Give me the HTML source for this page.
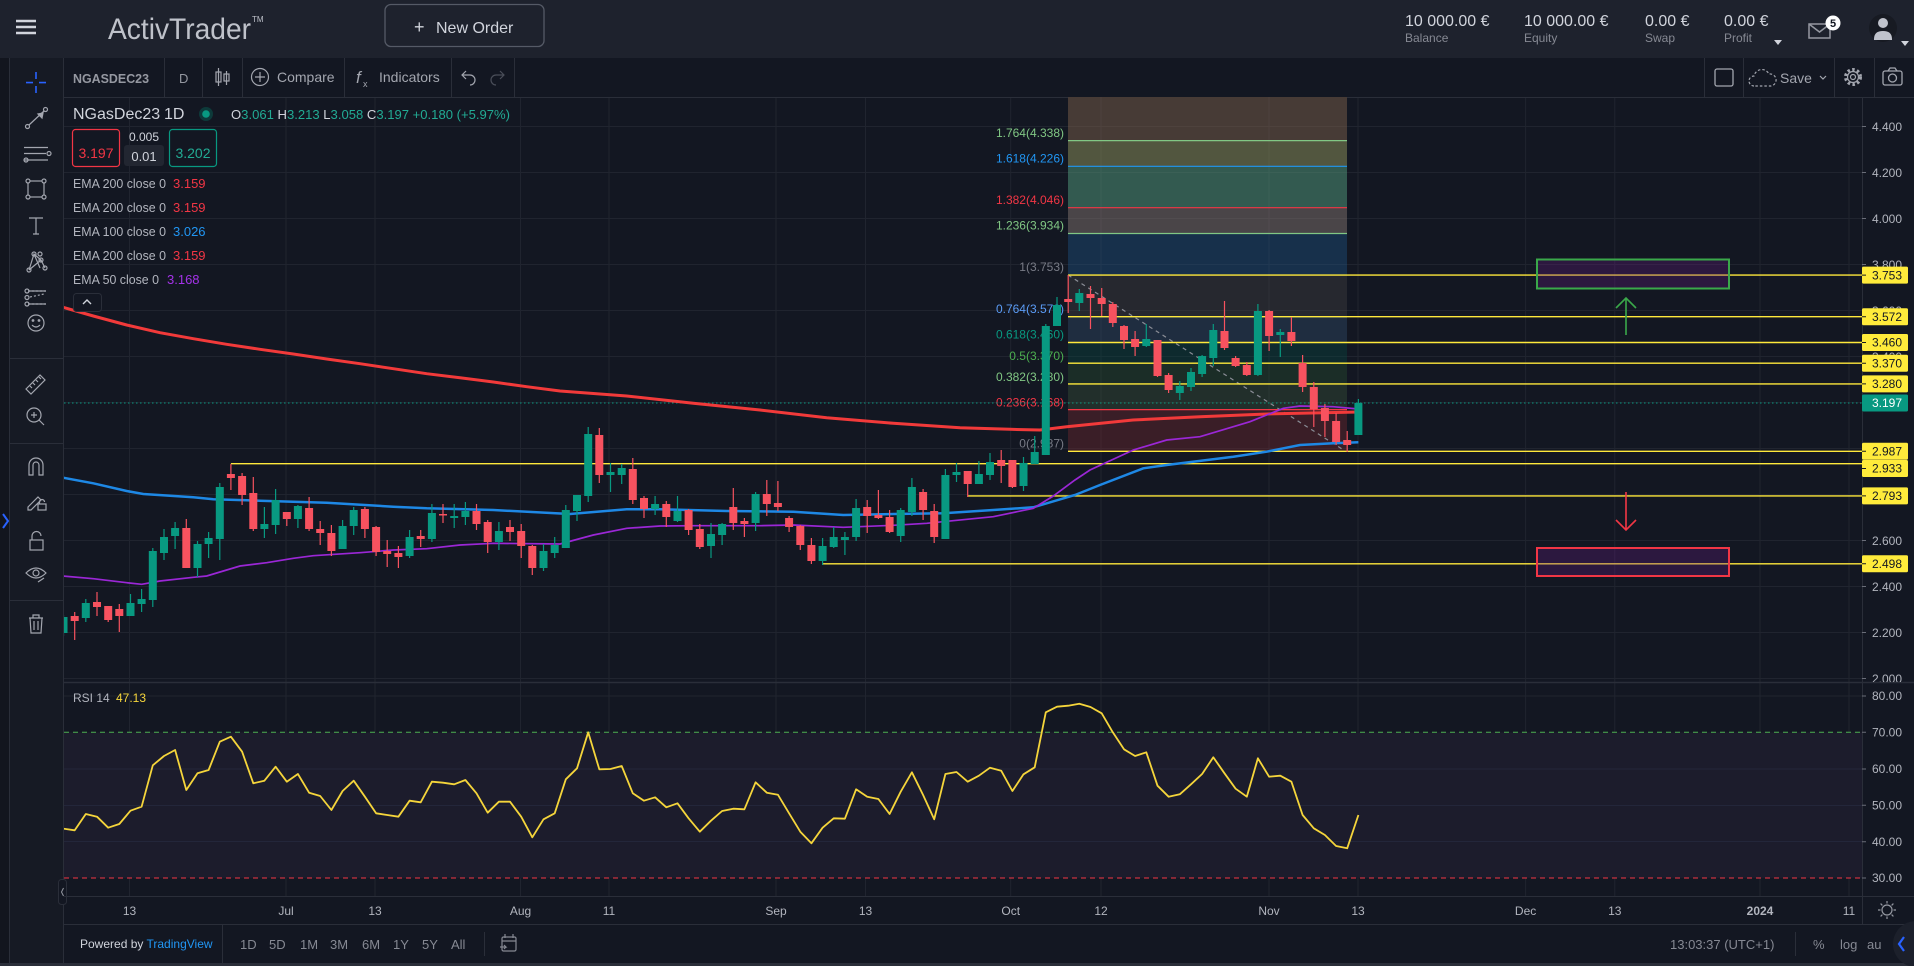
<!DOCTYPE html>
<html><head><meta charset="utf-8"><style>
html,body{margin:0;padding:0;background:#131722;}
svg{display:block;}
text{font-family:"Liberation Sans",sans-serif;}
</style></head><body>
<svg width="1914" height="966" viewBox="0 0 1914 966" xmlns="http://www.w3.org/2000/svg">
<defs>
<clipPath id="plot"><rect x="64" y="97" width="1798" height="585"/></clipPath>
<clipPath id="rsi"><rect x="64" y="683" width="1798" height="213"/></clipPath>
<clipPath id="axisclip"><rect x="1862" y="97" width="52" height="585"/></clipPath>
</defs>
<rect width="1914" height="966" fill="#131722"/>
<!-- HEADER -->
<rect x="0" y="0" width="1914" height="58" fill="#1e222d"/>
<g stroke="#d1d4dc" stroke-width="2.6"><path d="M16 21H36M16 27H36M16 33H36"/></g>
<text x="108" y="39" font-size="30" fill="#bfc2ca" textLength="143" lengthAdjust="spacingAndGlyphs">ActivTrader</text>
<text x="252" y="22" font-size="8" fill="#bfc2ca">TM</text>
<rect x="385" y="4.5" width="159" height="42" rx="6" fill="none" stroke="#555a66" stroke-width="1.3"/>
<text x="414" y="33" font-size="18" fill="#d1d4dc">+</text>
<text x="436" y="33" font-size="16" fill="#d1d4dc">New Order</text>
<g font-size="16" fill="#d1d4dc">
<text x="1405" y="26">10 000.00 €</text>
<text x="1524" y="26">10 000.00 €</text>
<text x="1645" y="26">0.00 €</text>
<text x="1724" y="26">0.00 €</text>
</g>
<g font-size="12" fill="#868993">
<text x="1405" y="42">Balance</text>
<text x="1524" y="42">Equity</text>
<text x="1645" y="42">Swap</text>
<text x="1724" y="42">Profit</text>
</g>
<path d="M1774 40h8l-4 5z" fill="#d1d4dc"/>
<rect x="1809" y="24" width="21" height="14" fill="none" stroke="#9598a1" stroke-width="1.5"/>
<path d="M1809 24l10.5 8 10.5-8" fill="none" stroke="#9598a1" stroke-width="1.5"/>
<circle cx="1833" cy="23" r="7.5" fill="#fff"/>
<text x="1833" y="27" font-size="11" font-weight="bold" fill="#131722" text-anchor="middle">5</text>
<circle cx="1883" cy="28" r="14" fill="#171a22"/>
<circle cx="1883" cy="23" r="5" fill="#c0c3cc"/>
<path d="M1874 39q0-8 9-8t9 8v1h-18z" fill="#c0c3cc"/>
<path d="M1901 41h8l-4 5z" fill="#d1d4dc"/>
<!-- LEFT TOOLBAR -->
<rect x="0" y="58" width="10" height="908" fill="#12151e"/>
<rect x="10" y="58" width="53" height="908" fill="#161a24"/>
<path d="M9.5 58V966M63.5 58V966" stroke="#2a2e39"/>
<path d="M10 358.5H63M10 443.5H63M10 600.5H63" stroke="#2a2e39"/>
<path d="M3 514l5 7-5 7" fill="none" stroke="#2962ff" stroke-width="2"/>
<g stroke="#2962ff" stroke-width="1.6"><path d="M26 82.6h7M39 82.6h7M36 72v7M36 86v7"/></g>
<g fill="none" stroke="#a3a6af" stroke-width="1.2">
<path d="M29 125L44 111"/><circle cx="27.5" cy="126.5" r="2"/><circle cx="45.5" cy="109.5" r="2"/><path d="M38 114l5-1-1 5z" fill="#a3a6af"/>
<path d="M24 147.5H48M24 153.5H46M24 160H48"/><circle cx="49" cy="153.5" r="2"/><circle cx="26" cy="160" r="2"/>
<rect x="28" y="181" width="16" height="16"/><circle cx="28" cy="181" r="2" fill="#161a24"/><circle cx="44" cy="181" r="2" fill="#161a24"/><circle cx="28" cy="197" r="2" fill="#161a24"/><circle cx="44" cy="197" r="2" fill="#161a24"/>
<path d="M29 218h14M36 218v16M33 234h6"/>
<path d="M29 270l5-16 7 6 4 8M34 254l6 14M29 270l12-10"/><circle cx="29" cy="270" r="2"/><circle cx="34" cy="254" r="2"/><circle cx="41" cy="260" r="2"/><circle cx="45" cy="268" r="2"/><circle cx="40" cy="254" r="2"/>
<path d="M28 291H46M28 304H46M30 297l14-3" stroke-dasharray="2 2"/><path d="M28 291H46M28 304H46"/><circle cx="27" cy="291" r="2"/><circle cx="27" cy="304" r="2"/><circle cx="27" cy="297.5" r="2"/>
<circle cx="36" cy="323" r="8"/><path d="M32 325q4 4 8 0"/><circle cx="33" cy="320.5" r=".8" fill="#a3a6af"/><circle cx="39" cy="320.5" r=".8" fill="#a3a6af"/>
<path d="M26 389l14-14 5 5-14 14z M30 386l2 2M33 383l2 2M36 380l2 2M39 377l2 2"/>
<circle cx="34" cy="415" r="7"/><path d="M39 420l5 5M31 415h6M34 412v6"/>
<path d="M29 475v-10a7 7 0 0 1 14 0v10h-4v-10a3 3 0 0 0-6 0v10z"/>
<path d="M28 507l10-10 3 3-10 10h-3z"/><rect x="38" y="504" width="8" height="6"/><path d="M39.5 504v-2a2.5 2.5 0 0 1 5 0"/>
<rect x="30" y="540" width="13" height="10"/><path d="M32 540v-4a4.5 4.5 0 0 1 9 0"/>
<path d="M26 573q10-10 20 0q-10 10-20 0z"/><circle cx="36" cy="573" r="3"/><path d="M38 582l6-4"/>
<path d="M29 618h14M33 618v-3h6v3M30 618l1 15h10l1-15M34 621v9M38 621v9"/>
</g>
<!-- CHART TOOLBAR -->
<path d="M64 97.5H1914" stroke="#2a2e39"/>
<g stroke="#2a2e39"><path d="M164.5 58V97M202.5 58V97M242.5 58V97M344.5 58V97M451.5 58V97M514.5 58V97M1704.5 58V97M1743.5 58V97M1834.5 58V97M1874.5 58V97"/></g>
<text x="73" y="83" font-size="13" font-weight="bold" fill="#9598a1" textLength="76" lengthAdjust="spacingAndGlyphs">NGASDEC23</text>
<text x="179" y="83" font-size="13" fill="#9598a1">D</text>
<g fill="none" stroke="#a3a6af" stroke-width="1.2"><path d="M218.5 68v18M226.5 71v14"/><rect x="216" y="72" width="5" height="10"/><rect x="224" y="74" width="5" height="7"/>
<circle cx="260" cy="77" r="8.5"/><path d="M255 77h10M260 72v10"/>
<path d="M466 71l-4 4 4 4M462 75h8a5 5 0 0 1 0 10"/></g>
<path d="M500 71l4 4-4 4M504 75h-8a5 5 0 0 0 0 10" fill="none" stroke="#4a4e59" stroke-width="1.2"/>
<text x="277" y="82" font-size="14" fill="#a3a6af">Compare</text>
<text x="356" y="83" font-size="17" font-style="italic" font-family="Liberation Serif,serif" fill="#a3a6af">f</text>
<text x="363" y="87" font-size="9" fill="#a3a6af">x</text>
<text x="379" y="82" font-size="14" fill="#a3a6af">Indicators</text>
<rect x="1715" y="69" width="18" height="17" rx="2" fill="none" stroke="#a3a6af" stroke-width="1.3"/>
<path d="M1754 86a5 5 0 0 1 0-10a8 8 0 0 1 15-2a6 6 0 0 1 2 12z" fill="none" stroke="#a3a6af" stroke-width="1.2" stroke-dasharray="2.5 2"/>
<text x="1780" y="83" font-size="14" fill="#a3a6af">Save</text>
<path d="M1820 76l3 3 3-3" fill="none" stroke="#a3a6af" stroke-width="1.2"/>
<circle cx="1853" cy="77" r="7.5" fill="none" stroke="#a3a6af" stroke-width="3" stroke-dasharray="2.5 2.4"/>
<circle cx="1853" cy="77" r="5.5" fill="none" stroke="#a3a6af" stroke-width="1.2"/>
<circle cx="1853" cy="77" r="2.5" fill="none" stroke="#a3a6af" stroke-width="1.2"/>
<rect x="1883" y="71" width="19" height="14" rx="2" fill="none" stroke="#a3a6af" stroke-width="1.3"/>
<path d="M1888 71l2-3h5l2 3" fill="none" stroke="#a3a6af" stroke-width="1.3"/>
<circle cx="1892.5" cy="78" r="4" fill="none" stroke="#a3a6af" stroke-width="1.3"/>
<!-- GRID -->
<g stroke="#20242f" stroke-width="1">
<path d="M64 126.5H1862M64 172.5H1862M64 218.5H1862M64 264.5H1862M64 310.5H1862M64 356.5H1862M64 402.5H1862M64 448.5H1862M64 494.5H1862M64 540.5H1862M64 586.5H1862M64 632.5H1862M64 678.5H1862"/>
<path d="M64 696H1862M64 769H1862M64 805.5H1862M64 841.5H1862"/>
<path d="M129.5 98V896M286 98V896M375 98V896M520.5 98V896M609 98V896M776 98V896M865.5 98V896M1010.7 98V896M1101 98V896M1269 98V896M1358 98V896M1525.6 98V896M1614.8 98V896M1760 98V896M1849 98V896"/>
</g>
<!-- MAIN PLOT -->
<g clip-path="url(#plot)">
<rect x="1068" y="97" width="279" height="43.6" fill="#473b36"/>
<rect x="1068" y="140.6" width="279" height="25.7" fill="#52563f"/>
<rect x="1068" y="166.3" width="279" height="41.4" fill="#335a50"/>
<rect x="1068" y="207.7" width="279" height="25.8" fill="#4a4548"/>
<rect x="1068" y="233.5" width="279" height="41.6" fill="#17304b"/>
<rect x="1068" y="275.1" width="279" height="41.6" fill="#26282f"/>
<rect x="1068" y="316.7" width="279" height="25.8" fill="#1f2d40"/>
<rect x="1068" y="342.5" width="279" height="20.7" fill="#0e2a2e"/>
<rect x="1068" y="363.2" width="279" height="20.7" fill="#1b2d27"/>
<rect x="1068" y="383.9" width="279" height="25.7" fill="#222f2b"/>
<rect x="1068" y="409.6" width="279" height="41.7" fill="#3a1e27"/>
<g stroke="rgba(255,255,255,0.04)"><path d="M1101 97V451M1269 97V451M1068 126.5H1347M1068 172.5H1347M1068 218.5H1347M1068 264.5H1347M1068 310.5H1347M1068 356.5H1347M1068 402.5H1347M1068 448.5H1347"/></g>
<g stroke-width="1.2">
<path d="M1068 140.6H1347" stroke="#81c784"/>
<path d="M1068 166.3H1347" stroke="#2196f3"/>
<path d="M1068 207.7H1347" stroke="#f23645"/>
<path d="M1068 233.5H1347" stroke="#81c784"/>
<path d="M1068 316.7H1347" stroke="#64b5f6"/>
<path d="M1068 409.6H1347" stroke="#f23645"/>
</g>
<g font-size="12" text-anchor="end">
<text x="1064" y="137" fill="#81c784">1.764(4.338)</text>
<text x="1064" y="162.5" fill="#2196f3">1.618(4.226)</text>
<text x="1064" y="204" fill="#f23645">1.382(4.046)</text>
<text x="1064" y="229.5" fill="#81c784">1.236(3.934)</text>
<text x="1064" y="271" fill="#787b86">1(3.753)</text>
<text x="1064" y="313" fill="#5b9cf6">0.764(3.572)</text>
<text x="1064" y="338.5" fill="#089981">0.618(3.460)</text>
<text x="1064" y="360" fill="#4caf50">0.5(3.370)</text>
<text x="1064" y="381" fill="#81c784">0.382(3.280)</text>
<text x="1064" y="406.5" fill="#f23645">0.236(3.168)</text>
<text x="1064" y="447.5" fill="#787b86">0(2.987)</text>
</g>
<path d="M1068 275L1342 449" stroke="#8a8d96" stroke-width="1.2" stroke-dasharray="4 4"/>
<path d="M64 403H1862" stroke="#089981" stroke-width="1" stroke-dasharray="1.5 2.5"/>
<g stroke="#ffe93b" stroke-width="1.4" fill="none">
<path d="M1068 275.1H1862M1068 316.7H1862M1068 342.5H1862M1068 363.2H1862M1068 383.9H1862M1068 451.3H1862M230.9 463.7H1862M967.7 495.9H1862M822.6 563.8H1862"/>
</g>
<rect x="1537" y="259.5" width="192" height="29" fill="rgba(110,30,140,0.28)" stroke="#3aa84a" stroke-width="2"/>
<rect x="1537" y="548" width="192" height="28" fill="rgba(110,30,140,0.28)" stroke="#f23645" stroke-width="2"/>
<g stroke="#3aa84a" stroke-width="1.6" fill="none"><path d="M1626 335V298M1616 308l10-10 10 10"/></g>
<g stroke="#f23645" stroke-width="1.6" fill="none"><path d="M1626 492V530M1616 520l10 10 10-10"/></g>
<polyline fill="none" stroke="#f23a3a" stroke-width="3" points="63,307.3 93.3,316 126.7,325 160,332.7 193.3,338.7 226.7,344.3 260,349.3 293.3,354 326.7,359 360,363.7 393.3,368.7 426.7,373.7 460,377.7 493.3,382 526.7,386.7 560,391 626.7,396 693.3,403.3 760,410 826.7,417.7 893.3,423.3 960,427.7 1010,429.3 1040,430 1066.7,426.7 1133,420 1200,416.7 1266.7,414 1358.4,412"/>
<polyline fill="none" stroke="#1e88e5" stroke-width="2.5" points="63,477.7 93.3,483.3 126.7,491 143.3,494 193.3,497.3 213.3,499.3 260,500.7 326.7,502.7 393.3,506.7 426.7,508.3 493.3,510 570,514 626.7,509.3 660,509.3 726.7,511 793.3,511.7 843.3,515 893.3,514 943.3,513.3 993.3,510 1033.3,507.3 1075,495 1100,485 1143.3,468.3 1166.7,465 1233.3,456.7 1266.7,451.7 1300,445 1333.3,443.3 1358.4,442.3"/>
<polyline fill="none" stroke="#9b27d6" stroke-width="1.7" points="63,576 93.3,578.7 126.7,582.7 141.7,584.3 160,581 193.3,577.3 206.7,576 240,566 266.7,562.7 293.3,558.3 313.3,555.7 360,552.7 393.3,550 426.7,548.7 460,545 493.3,543.3 560,544 593.3,535 626.7,528.3 660,526 693.3,525.7 760,525.7 793.3,525 843.3,527.3 893.3,525.3 926.7,523.3 993.3,516.7 1033.3,508.3 1053.3,496 1075,480 1090,470 1133.3,450 1166.7,440 1200,436.7 1250,421.7 1283.3,408.3 1300,406 1333,406.7 1358.4,409"/>
<path fill="none" stroke="#f7525f" stroke-width="1.2" d="M74.7 612V640M97 592V616M108.2 606V622M119.3 604V632M186.3 519V568M230.9 464V490M242.1 473V505M253.3 477V531M286.8 512V526M309.1 497V531M320.2 521V545M331.4 525V556M364.9 507V538M376.1 526V556M387.2 540V567M398.4 546V568M420.7 530V547M443 504V523M476.5 504V530M487.7 520V553M510 520V541M521.2 524V558M532.3 545V575M599.3 428V483M632.8 458V504M644 496V518M666.3 501V527M688.6 509V535M699.8 524V549M733.3 488V530M744.4 518V537M766.8 480V516M777.9 481V511M789.1 516V532M800.3 525V550M811.4 538V564M867.2 500V533M878.4 490V519M889.6 510V533M923.1 489V520M934.2 504V543M967.7 471V497M1001.2 450V483M1012.4 460V488M1068.2 275V313M1090.5 286V329M1101.7 288V316M1112.8 302V327M1124 325V349M1135.1 331V356M1157.5 340V377M1168.6 373V393M1224.5 301V350M1235.6 356V367M1246.8 362V376M1269.1 310V351M1291.4 317V346M1302.6 355V392M1313.8 382V427M1324.9 404V437M1336.1 413V445M1347.2 431V452"/>
<path fill="#f7525f" d="M70.7 616h8v5h-8zM93 602h8v5h-8zM104.2 606h8v14h-8zM115.3 609h8v7h-8zM182.3 528h8v40h-8zM226.9 474h8v4h-8zM238.1 476h8v19h-8zM249.3 493h8v36h-8zM282.8 512h8v7h-8zM305.1 508h8v21h-8zM316.2 529h8v4h-8zM327.4 533h8v18h-8zM360.9 509h8v20h-8zM372.1 527h8v25h-8zM383.2 551h8v3h-8zM394.4 553h8v4h-8zM416.7 536h8v3h-8zM439 514h8v1.5h-8zM472.5 511h8v13h-8zM483.7 522h8v20h-8zM506 527h8v5h-8zM517.2 531h8v15h-8zM528.3 546h8v22h-8zM595.3 435h8v40h-8zM628.8 469h8v31h-8zM640 498h8v11h-8zM662.3 504h8v13h-8zM684.6 510h8v20h-8zM695.8 529h8v18h-8zM729.3 507h8v16h-8zM740.4 521h8v3h-8zM762.8 494h8v10h-8zM773.9 503h8v4h-8zM785.1 518h8v9h-8zM796.3 526h8v19h-8zM807.4 545h8v16h-8zM863.2 507h8v9h-8zM874.4 515h8v3h-8zM885.6 517h8v15h-8zM919.1 492h8v18h-8zM930.2 511h8v26h-8zM963.7 471h8v13h-8zM997.2 460h8v6h-8zM1008.4 460h8v27h-8zM1064.2 299h8v3h-8zM1086.5 294h8v4h-8zM1097.7 298h8v6h-8zM1108.8 304h8v19h-8zM1120 326h8v14h-8zM1131.1 339h8v8h-8zM1153.5 340h8v36h-8zM1164.6 375h8v15h-8zM1220.5 331h8v17h-8zM1231.6 358h8v8h-8zM1242.8 365h8v10h-8zM1265.1 311h8v25h-8zM1287.4 332h8v9h-8zM1298.6 363h8v24h-8zM1309.8 387h8v22h-8zM1320.9 408h8v13h-8zM1332.1 421h8v21h-8zM1343.2 440h8v5h-8z"/>
<path fill="none" stroke="#089981" stroke-width="1.2" d="M63.5 615V636M85.8 599V622M130.5 594V616M141.6 589V612M152.8 548V607M164 529V560M175.1 522V549M197.5 541V577M208.6 532V558M219.8 483V560M264.4 507V538M275.6 489V534M297.9 505V528M342.6 520V549M353.7 507V535M409.6 530V558M431.9 504V542M454.2 504V528M465.4 502V525M498.9 522V550M543.5 544V571M554.7 537V558M565.8 505V548M577 495V521M588.2 427V502M610.5 463V492M621.7 464V484M655.1 496V515M677.5 496V522M711 523V558M722.1 523V545M755.6 492V531M822.6 538V565M833.7 527V548M844.9 532V555M856.1 499V541M900.7 508V542M911.9 478V516M945.4 469V539M956.5 463V482M978.9 461V484M990 453V480M1023.5 457V491M1034.7 436V464M1045.8 324V455M1057 297V326M1079.3 289V311M1146.3 324V347M1179.8 381V400M1191 368V391M1202.1 355V377M1213.3 324V366M1257.9 304V376M1280.3 329V357M1358.4 399V435"/>
<path fill="#089981" d="M59.5 617h8v16h-8zM81.8 603h8v15h-8zM126.5 603h8v13h-8zM137.6 599h8v5h-8zM148.8 551h8v49h-8zM160 537h8v16h-8zM171.1 528h8v8h-8zM193.5 544h8v24h-8zM204.6 538h8v6h-8zM215.8 487h8v52h-8zM260.4 524h8v5h-8zM271.6 500h8v25h-8zM293.9 506h8v13h-8zM338.6 526h8v23h-8zM349.7 510h8v16h-8zM405.6 537h8v19h-8zM427.9 513h8v26h-8zM450.2 516h8v2h-8zM461.4 511h8v6h-8zM494.9 531h8v11h-8zM539.5 551h8v17h-8zM550.7 545h8v8h-8zM561.8 510h8v38h-8zM573 495h8v16h-8zM584.2 434h8v62h-8zM606.5 472h8v3h-8zM617.7 468h8v7h-8zM651.1 504h8v5h-8zM673.5 511h8v10h-8zM707 534h8v12h-8zM718.1 524h8v11h-8zM751.6 494h8v29h-8zM818.6 546h8v15h-8zM829.7 537h8v10h-8zM840.9 537h8v3h-8zM852.1 508h8v29h-8zM896.7 510h8v26h-8zM907.9 487h8v25h-8zM941.4 475h8v64h-8zM952.5 472h8v3h-8zM974.9 474h8v10h-8zM986 462h8v13h-8zM1019.5 463h8v23h-8zM1030.7 452h8v12h-8zM1041.8 326h8v129h-8zM1053 305h8v21h-8zM1075.3 293h8v10h-8zM1142.3 339h8v7h-8zM1175.8 386h8v7h-8zM1187 372h8v15h-8zM1198.1 356h8v18h-8zM1209.3 330h8v28h-8zM1253.9 311h8v64h-8zM1276.3 332h8v3h-8zM1354.4 403h8v32h-8z"/>
</g>
<!-- LEGEND -->
<text x="73" y="119" font-size="16" fill="#d1d4dc">NGasDec23</text>
<text x="155" y="119" font-size="16" fill="#787b86">·</text>
<text x="164" y="119" font-size="16" fill="#d1d4dc">1D</text>
<circle cx="206" cy="114" r="7" fill="#0d3a3a"/>
<circle cx="206" cy="114" r="3.8" fill="#089981"/>
<text x="231" y="119" font-size="12.5" fill="#22ab94" textLength="279" lengthAdjust="spacingAndGlyphs"><tspan fill="#d1d4dc">O</tspan>3.061 <tspan fill="#d1d4dc">H</tspan>3.213 <tspan fill="#d1d4dc">L</tspan>3.058 <tspan fill="#d1d4dc">C</tspan>3.197 +0.180 (+5.97%)</text>
<rect x="72.5" y="129.5" width="47" height="37" rx="3" fill="#131722" stroke="#f23645" stroke-width="1.2"/>
<text x="96" y="158" font-size="14" fill="#f23645" text-anchor="middle">3.197</text>
<text x="144" y="141" font-size="12" fill="#d1d4dc" text-anchor="middle">0.005</text>
<rect x="124" y="145" width="40" height="21" rx="3" fill="#222631"/>
<text x="144" y="161" font-size="13" fill="#d1d4dc" text-anchor="middle">0.01</text>
<rect x="169.5" y="129.5" width="47" height="37" rx="3" fill="#131722" stroke="#089981" stroke-width="1.2"/>
<text x="193" y="158" font-size="14" fill="#22ab94" text-anchor="middle">3.202</text>
<g font-size="13" fill="#b2b5be">
<text x="73" y="188" textLength="93" lengthAdjust="spacingAndGlyphs">EMA 200 close 0</text>
<text x="73" y="212" textLength="93" lengthAdjust="spacingAndGlyphs">EMA 200 close 0</text>
<text x="73" y="236" textLength="93" lengthAdjust="spacingAndGlyphs">EMA 100 close 0</text>
<text x="73" y="260" textLength="93" lengthAdjust="spacingAndGlyphs">EMA 200 close 0</text>
<text x="73" y="284" textLength="86" lengthAdjust="spacingAndGlyphs">EMA 50 close 0</text>
</g>
<g font-size="13">
<text x="173" y="188" fill="#f23645">3.159</text>
<text x="173" y="212" fill="#f23645">3.159</text>
<text x="173" y="236" fill="#2196f3">3.026</text>
<text x="173" y="260" fill="#f23645">3.159</text>
<text x="167" y="284" fill="#a332e8">3.168</text>
</g>
<rect x="73.5" y="293.5" width="28" height="18" rx="3" fill="#131722" stroke="#2a2e39"/>
<path d="M83 304l4-4 4 4" fill="none" stroke="#d1d4dc" stroke-width="1.4"/>
<!-- PANE SEPARATORS -->
<path d="M64 682.5H1914" stroke="#2a2e39" stroke-width="1.5"/>
<path d="M1862.5 97V924" stroke="#2a2e39"/>
<!-- RSI -->
<rect x="64" y="732.3" width="1798" height="145.7" fill="#1c1c2c"/>
<g stroke="#23263a"><path d="M64 769H1862M64 805.5H1862M64 841.5H1862"/></g>
<path d="M64 732.3H1862" stroke="#4caf50" stroke-width="1" stroke-dasharray="5 4"/>
<path d="M64 878H1862" stroke="#f23645" stroke-width="1" stroke-dasharray="5 4"/>
<g clip-path="url(#rsi)">
<polyline fill="none" stroke="#f5d53b" stroke-width="1.8" stroke-linejoin="round" points="63.5,828.7 74.7,830.3 85.8,814 97,816.7 108.2,827.7 119.3,824 130.5,810.7 141.6,806.7 152.8,765.3 164,756 175.1,750 186.3,790 197.5,773.3 208.6,770 219.8,741.7 230.9,736.7 242.1,751.7 253.3,783.3 264.4,780.7 275.6,766.7 286.8,781.7 297.9,774 309.1,792.7 320.2,796 331.4,810 342.6,791 353.7,780.7 364.9,796.7 376.1,813.3 387.2,815 398.4,816.7 409.6,800.7 420.7,802.3 431.9,781.7 443,782.7 454.2,784.3 465.4,780 476.5,793.3 487.7,812.7 498.9,801.7 510,801.7 521.2,816.7 532.3,837.3 543.5,819.3 554.7,813.3 565.8,779.3 577,768.3 588.2,732.3 599.3,769.3 610.5,769 621.7,766 632.8,793.3 644,800.7 655.1,797.3 666.3,807.3 677.5,803.3 688.6,818.3 699.8,831.7 711,820.7 722.1,811 733.3,808.7 744.4,809.3 755.6,782.3 766.8,792.7 777.9,794.7 789.1,813.3 800.3,831.7 811.4,843.3 822.6,827.7 833.7,818.3 844.9,818.7 856.1,789.3 867.2,796.7 878.4,799 889.6,814 900.7,791.7 911.9,772.3 923.1,795 934.2,819.3 945.4,774 956.5,772 967.7,781.7 978.9,775.7 990,767.7 1001.2,770.7 1012.4,791 1023.5,774.3 1034.7,767.3 1045.8,712.3 1057,706.7 1068.2,705.7 1079.3,703.7 1090.5,707 1101.7,713.3 1112.8,732.3 1124,749.3 1135.1,756 1146.3,752.3 1157.5,785.7 1168.6,796.7 1179.8,794.3 1191,784.3 1202.1,774 1213.3,757.3 1224.5,773.3 1235.6,788.7 1246.8,796.7 1257.9,758.3 1269.1,776.7 1280.3,775.7 1291.4,781.7 1302.6,815 1313.8,828.3 1324.9,835 1336.1,846 1347.2,848.3 1358.4,815"/>
</g>
<text x="73" y="702" font-size="12" fill="#b2b5be">RSI 14</text>
<text x="116" y="702" font-size="12" fill="#f5d53b">47.13</text>
<rect x="58.5" y="879.5" width="8" height="25" rx="3" fill="#131722" stroke="#2a2e39"/>
<path d="M63.5 888l-2 4 2 4" fill="none" stroke="#9598a1" stroke-width="1"/>
<!-- PRICE AXIS -->
<g clip-path="url(#axisclip)">
<g stroke="#6a6d78"><path d="M1862 126.5h4M1862 172.5h4M1862 218.5h4M1862 264.5h4M1862 310.5h4M1862 356.5h4M1862 402.5h4M1862 448.5h4M1862 494.5h4M1862 540.5h4M1862 586.5h4M1862 632.5h4M1862 678.5h4"/></g>
<g font-size="12" fill="#b2b5be">
<text x="1872" y="131">4.400</text><text x="1872" y="177">4.200</text><text x="1872" y="223">4.000</text><text x="1872" y="269">3.800</text><text x="1872" y="315">3.600</text><text x="1872" y="361">3.400</text><text x="1872" y="407">3.200</text><text x="1872" y="453">3.000</text><text x="1872" y="499">2.800</text><text x="1872" y="545">2.600</text><text x="1872" y="591">2.400</text><text x="1872" y="637">2.200</text><text x="1872" y="683">2.000</text>
</g>
</g>
<g font-size="12" fill="#131722">
<rect x="1862" y="266.6" width="46" height="17" rx="1.5" fill="#ffeb3b"/><text x="1872" y="279.3">3.753</text>
<rect x="1862" y="308.2" width="46" height="17" rx="1.5" fill="#ffeb3b"/><text x="1872" y="320.9">3.572</text>
<rect x="1862" y="334" width="46" height="17" rx="1.5" fill="#ffeb3b"/><text x="1872" y="346.7">3.460</text>
<rect x="1862" y="354.7" width="46" height="17" rx="1.5" fill="#ffeb3b"/><text x="1872" y="367.4">3.370</text>
<rect x="1862" y="375.4" width="46" height="17" rx="1.5" fill="#ffeb3b"/><text x="1872" y="388.1">3.280</text>
<rect x="1862" y="394.5" width="46" height="17" rx="1.5" fill="#089981"/><text x="1872" y="407.2" fill="#ffffff">3.197</text>
<rect x="1862" y="442.8" width="46" height="17" rx="1.5" fill="#ffeb3b"/><text x="1872" y="455.5">2.987</text>
<rect x="1862" y="460" width="46" height="17" rx="1.5" fill="#ffeb3b"/><text x="1872" y="472.7">2.933</text>
<rect x="1862" y="487.4" width="46" height="17" rx="1.5" fill="#ffeb3b"/><text x="1872" y="500.1">2.793</text>
<rect x="1862" y="555.3" width="46" height="17" rx="1.5" fill="#ffeb3b"/><text x="1872" y="568">2.498</text>
</g>
<g stroke="#131722"><path d="M1862 275.1h4M1862 316.7h4M1862 342.5h4M1862 363.2h4M1862 383.9h4M1862 451.3h4M1862 468.5h4M1862 495.9h4M1862 563.8h4"/></g>
<g stroke="#6a6d78"><path d="M1862 696h4M1862 732.3h4M1862 769h4M1862 805.3h4M1862 841.7h4M1862 878h4"/></g>
<g font-size="12" fill="#b2b5be">
<text x="1872" y="700">80.00</text><text x="1872" y="736.5">70.00</text><text x="1872" y="773">60.00</text><text x="1872" y="809.5">50.00</text><text x="1872" y="846">40.00</text><text x="1872" y="882">30.00</text>
</g>
<!-- TIME AXIS -->
<path d="M64 896.5H1914" stroke="#2a2e39"/>
<g font-size="12" fill="#b2b5be" text-anchor="middle">
<text x="129.5" y="915">13</text><text x="286" y="915">Jul</text><text x="375" y="915">13</text><text x="520.5" y="915">Aug</text><text x="609" y="915">11</text><text x="776" y="915">Sep</text><text x="865.5" y="915">13</text><text x="1010.7" y="915">Oct</text><text x="1101" y="915">12</text><text x="1269" y="915">Nov</text><text x="1358" y="915">13</text><text x="1525.6" y="915">Dec</text><text x="1614.8" y="915">13</text><text x="1760" y="915" font-weight="bold">2024</text><text x="1849" y="915">11</text>
</g>
<circle cx="1887" cy="910" r="5" fill="none" stroke="#9598a1" stroke-width="1.2"/>
<path d="M1887 901v2.5M1887 916.5v2.5M1878 910h2.5M1893.5 910h2.5M1880.6 903.6l1.8 1.8M1891.6 914.6l1.8 1.8M1880.6 916.4l1.8-1.8M1891.6 905.4l1.8-1.8" stroke="#9598a1" stroke-width="1.2"/>
<!-- BOTTOM BAR -->
<path d="M64 924.5H1914" stroke="#2a2e39"/>
<rect x="0" y="963" width="1914" height="3" fill="#2a2e39"/>
<text x="80" y="948" font-size="12" fill="#d1d4dc">Powered by <tspan fill="#2196f3">TradingView</tspan></text>
<path d="M222.5 925V963M484.5 932V956M1795.5 932V956" stroke="#2a2e39"/>
<g font-size="13" fill="#868993">
<text x="240" y="949">1D</text><text x="269" y="949">5D</text><text x="300" y="949">1M</text><text x="330" y="949">3M</text><text x="362" y="949">6M</text><text x="393" y="949">1Y</text><text x="422" y="949">5Y</text><text x="451" y="949">All</text>
<text x="1670" y="949">13:03:37 (UTC+1)</text>
<text x="1813" y="949">%</text><text x="1840" y="949">log</text><text x="1867" y="949">au</text>
</g>
<g fill="none" stroke="#868993" stroke-width="1.2"><rect x="502" y="937" width="14" height="14" rx="1.5"/><path d="M502 941h14M505 934v4M513 934v4M500 947h6l-2-2M506 947l-2 2"/></g>
<circle cx="1916" cy="944" r="23" fill="#1c202b"/>
<path d="M1904 937l-5 7 5 7" fill="none" stroke="#2962ff" stroke-width="2.2"/>
</svg>
</body></html>
